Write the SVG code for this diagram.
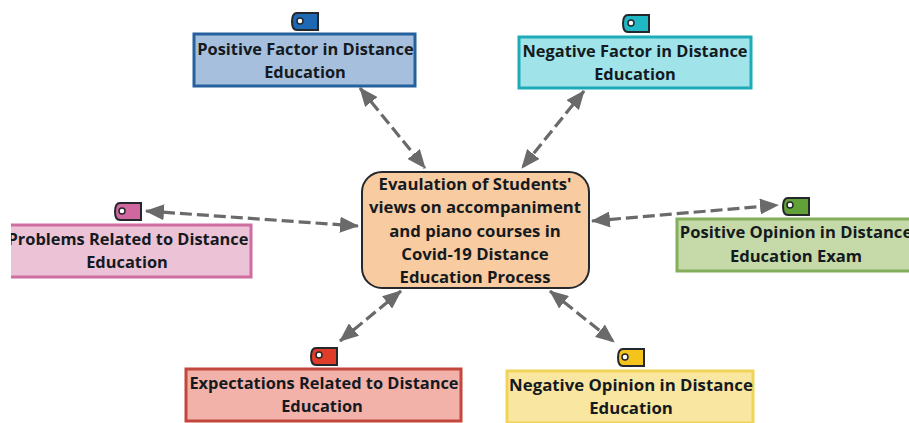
<svg xmlns="http://www.w3.org/2000/svg" width="909" height="423" viewBox="0 0 909 423">
<style>
text{font-family:"Open Sans","Noto Sans","Liberation Sans",sans-serif;font-weight:700;font-size:16.4px;fill:#141a20;text-anchor:middle}
#center text{font-size:16.7px}
#n6 text{font-size:16.8px}
#n4 text{font-size:16.6px}
.box{stroke-width:3}
.tag{stroke:#24282c;stroke-width:2}
.hole{fill:#fff;stroke:#24282c;stroke-width:1.5}
.c{stroke:#6a6a6a;stroke-width:3.2;stroke-dasharray:12 5;fill:none;marker-start:url(#a);marker-end:url(#a)}
</style>
<defs>
<marker id="a" markerUnits="userSpaceOnUse" markerWidth="20" markerHeight="16" refX="18" refY="8" orient="auto-start-reverse"><path d="M0 0L19 8L0 16Z" fill="#6a6a6a"/></marker>
<clipPath id="cl"><rect x="11" y="0" width="898" height="423"/></clipPath>
<path id="t" d="M6 1H27V18H6Q1 18 1 9.5Q1 1 6 1Z"/>
</defs>
<rect width="909" height="423" fill="#fff"/>
<g id="connectors">
<path class="c" d="M360 88L425 168"/>
<path class="c" d="M584 91L522 168"/>
<path class="c" d="M146 211L358 226"/>
<path class="c" d="M592 221L778 205"/>
<path class="c" d="M340 341L401 291"/>
<path class="c" d="M550 291L614 342"/>
</g>
<g id="center"><rect x="362" y="172" width="227" height="116" rx="20" fill="#f8cba0" stroke="#24282c" stroke-width="2"/>
<text x="475" y="190">Evaulation of Students'</text><text x="475" y="213">views on accompaniment</text><text x="475" y="237">and piano courses in</text><text x="475" y="260">Covid-19 Distance</text><text x="475" y="283">Education Process</text></g>
<g id="n1"><use href="#t" x="291" y="12" fill="#1f69b4" class="tag"/><circle class="hole" cx="300" cy="21" r="3"/><rect class="box" x="194" y="34" width="221" height="52" fill="#a6bfdc" stroke="#25619e"/>
<text x="305.500" y="55">Positive Factor in Distance</text><text x="305" y="78">Education</text></g>
<g id="n2"><use href="#t" x="622" y="14" fill="#1fb8c4" class="tag"/><circle class="hole" cx="631" cy="23" r="3"/><rect class="box" x="519" y="37" width="232" height="51" fill="#a0e4ea" stroke="#1eabb8"/>
<text x="635" y="57">Negative Factor in Distance</text><text x="635" y="80">Education</text></g>
<g id="n3"><use href="#t" x="114" y="202" fill="#d0679e" class="tag"/><circle class="hole" cx="122" cy="211" r="3"/><g clip-path="url(#cl)"><rect class="box" x="0" y="225" width="251" height="52" fill="#ebc2d6" stroke="#cf6ca0"/>
<text x="128" y="245">Problems Related to Distance</text><text x="127" y="268">Education</text></g></g>
<g id="n4"><use href="#t" x="782" y="197" fill="#62a038" class="tag"/><circle class="hole" cx="790" cy="205" r="3"/><rect class="box" x="677" y="219" width="240" height="52" fill="#c5daa8" stroke="#84ae5c"/>
<text x="796" y="238">Positive Opinion in Distance</text><text x="796" y="262">Education Exam</text></g>
<g id="n5"><use href="#t" x="310" y="347" fill="#e03c2a" class="tag"/><circle class="hole" cx="319" cy="355" r="3"/><rect class="box" x="186" y="369" width="275" height="52" fill="#f2b2aa" stroke="#c4473e"/>
<text x="324" y="389">Expectations Related to Distance</text><text x="322" y="412">Education</text></g>
<g id="n6"><use href="#t" x="617" y="348" fill="#f4c41c" class="tag"/><circle class="hole" cx="625" cy="357" r="3"/><rect class="box" x="507" y="371" width="246" height="52" fill="#f9e6a0" stroke="#f0d458"/>
<text x="631" y="391">Negative Opinion in Distance</text><text x="631" y="414">Education</text></g>
</svg>
